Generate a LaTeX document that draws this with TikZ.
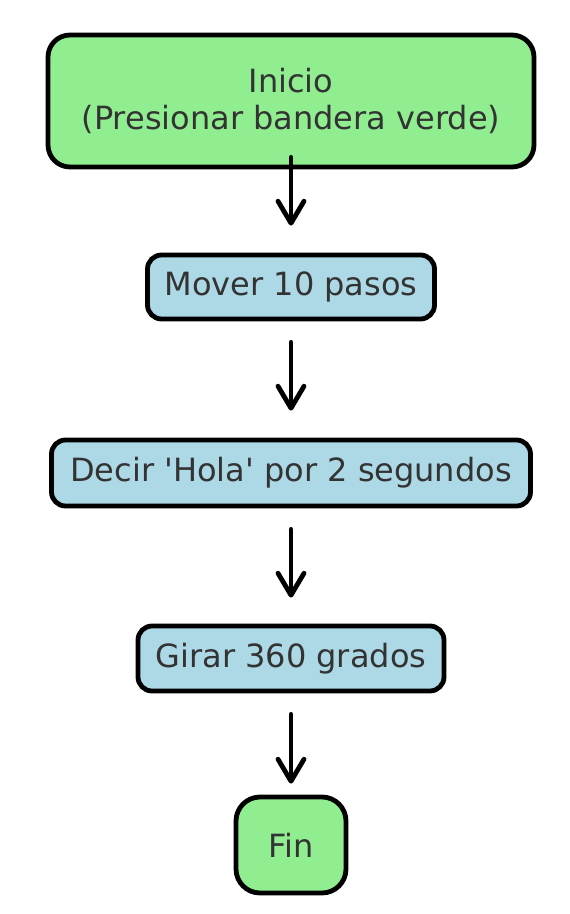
\documentclass[tikz,border=0pt]{standalone}
\usepackage{fontspec}
\setmainfont{DejaVu Sans}[Ligatures=TeXOff]
\usetikzlibrary{arrows.meta}
\definecolor{boxgreen}{HTML}{90EE90}
\definecolor{boxblue}{HTML}{ADD8E6}
\definecolor{txt}{HTML}{333333}
\tikzset{
  base/.style={draw=black, line width=4.8bp, inner sep=0pt, text=txt,
    font=\fontsize{32bp}{37bp}\selectfont, align=center},
  startbox/.style={base, fill=boxgreen, rounded corners=22bp},
  stepbox/.style={base, fill=boxblue, rounded corners=14bp},
  endbox/.style={base, fill=boxgreen, rounded corners=24bp},
  arr/.style={draw=black, line width=4.8bp, line cap=round, line join=round,
    -{Straight Barb[length=22bp, width=26bp, line cap=round, line join=round]}}
}
\begin{document}
\begin{tikzpicture}[x=1bp, y=1bp]
\useasboundingbox (0,0) rectangle (570,-914);
\node[startbox, minimum width=486bp, minimum height=132bp] (start) at (291,-101)
  {Inicio\\(Presionar bandera verde)};
\node[stepbox, minimum width=287bp, minimum height=64bp] (mover) at (291,-287)
  {Mover 10 pasos};
\node[stepbox, minimum width=479bp, minimum height=66bp] (decir) at (291,-473)
  {Decir 'Hola' por 2 segundos};
\node[stepbox, minimum width=306bp, minimum height=65bp] (girar) at (291,-658.5)
  {Girar 360 grados};
\node[endbox, minimum width=110bp, minimum height=96bp] (fin) at (291,-845)
  {Fin};
\draw[arr] ([yshift=12bp]start.south) -- ([yshift=27bp]mover.north);
\draw[arr] ([yshift=-21bp]mover.south) -- ([yshift=27bp]decir.north);
\draw[arr] ([yshift=-21bp]decir.south) -- ([yshift=26bp]girar.north);
\draw[arr] ([yshift=-21bp]girar.south) -- ([yshift=11bp]fin.north);
\end{tikzpicture}
\end{document}
